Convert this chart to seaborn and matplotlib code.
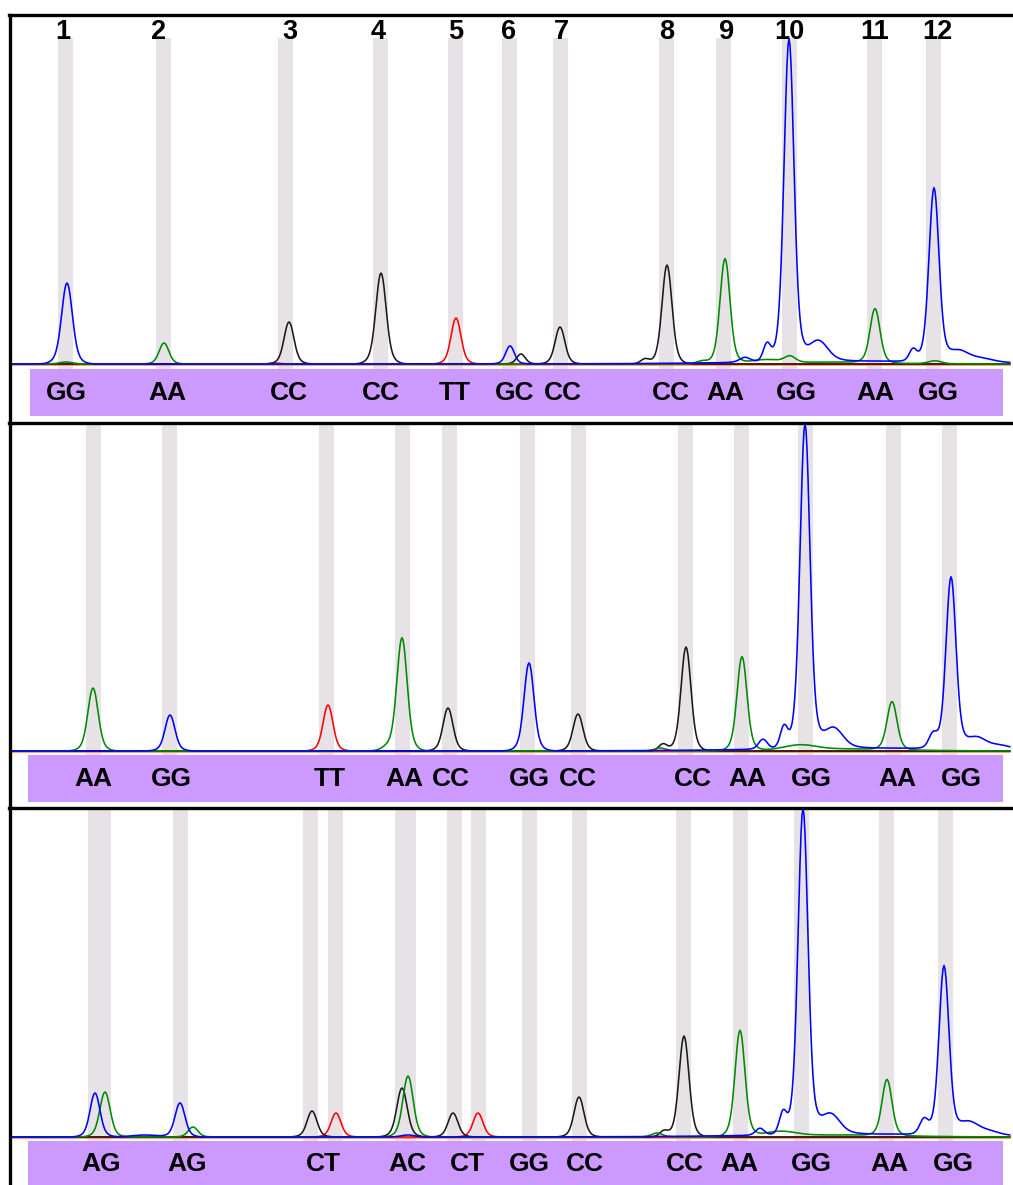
import numpy as np
import pandas as pd
import matplotlib.pyplot as plt
import matplotlib.patches as patches
import seaborn as sns

# peaks per panel / dye: (position, height, width)
P1_BLUE = [(67, 81, 5.0), (510, 18, 4.0), (745, 5, 5), (767, 18, 3.5), (789, 322, 4.6),
           (818, 21, 9), (913, 12, 3.5), (934, 173, 4.6), (958, 11, 9), (980, 4, 12),
           (860, 3, 100)]
P1_GREEN = [(66, 2, 6), (164, 21, 4.5), (702, 3, 5), (725, 105, 4.6), (765, 4, 15),
            (790, 6, 5), (875, 54, 4.6), (840, 2, 40), (935, 3, 6)]
P1_BLACK = [(289, 42, 4.6), (381, 91, 4.8), (521, 10, 4), (560, 37, 4.5), (645, 5, 4), (667, 99, 4.6)]
P1_RED = [(456, 46, 4.6), (275, 1, 4)]

P2_BLUE = [(170, 36, 4.6), (529, 88, 4.6), (763, 10, 4), (784, 22, 3.5), (805, 324, 4.6),
           (833, 21, 9), (933, 14, 4), (951, 171, 4.6), (976, 12, 9), (1000, 4, 10),
           (870, 3, 100)]
P2_GREEN = [(93, 63, 4.8), (387, 3, 6), (402, 113, 4.8), (660, 3, 5), (742, 94, 4.6),
            (800, 5, 15), (892, 48, 4.6), (850, 2, 50)]
P2_BLACK = [(448, 43, 4.6), (578, 37, 4.6), (663, 7, 4), (686, 104, 4.6)]
P2_RED = [(328, 46, 4.6)]

P3_BLUE = [(95, 44, 4.6), (180, 34, 4.6), (145, 2, 12), (408, 2, 6), (760, 7, 4), (783, 22, 3.5),
           (803, 325, 4.6), (830, 21, 9), (924, 15, 4), (944, 168, 4.6),
           (968, 13, 9), (988, 4, 10), (870, 3, 100)]
P3_GREEN = [(105, 45, 4.8), (193, 10, 4.5), (408, 61, 4.8), (657, 4, 5), (740, 106, 4.6),
            (780, 5, 15), (887, 56, 4.6), (850, 2, 50)]
P3_BLACK = [(312, 26, 4.6), (402, 49, 4.8), (453, 24, 4.6), (579, 40, 4.6), (664, 6, 4), (684, 101, 4.6)]
P3_RED = [(336, 24, 4.6), (478, 24, 4.6)]

# grey marker bands (centres)
P1_BANDS = [65.5, 163.5, 285.5, 380, 455.5, 509.5, 560, 666.5, 723.5, 789.5, 874.5, 933.5]
P2_BANDS = [93.5, 169.5, 326.5, 402.5, 449.5, 527.5, 578.5, 685.5, 741.5, 805.5, 893.5, 949.5]
P3_BANDS = [95.5, 103.5, 180, 310.5, 335.5, 402.5, 408.5, 454, 478, 529.5, 579.5, 683,
            740.5, 801.5, 886.5, 945]

SNP_NUMBERS = ['1', '2', '3', '4', '5', '6', '7', '8', '9', '10', '11', '12']
SNP_NUMBER_X = [63, 159, 290, 378, 456, 509, 561, 667, 727, 789, 875, 937]

P1_CALLS = ['GG', 'AA', 'CC', 'CC', 'TT', 'GC', 'CC', 'CC', 'AA', 'GG', 'AA', 'GG']
P1_CALL_X = [66, 167, 289, 381, 455, 515, 563, 671, 725, 796, 875, 938]
P2_CALLS = ['AA', 'GG', 'TT', 'AA', 'CC', 'GG', 'CC', 'CC', 'AA', 'GG', 'AA', 'GG']
P2_CALL_X = [93, 171, 330, 404, 451, 529, 578, 693, 747, 811, 897, 961]
P3_CALLS = ['AG', 'AG', 'CT', 'AC', 'CT', 'GG', 'CC', 'CC', 'AA', 'GG', 'AA', 'GG']
P3_CALL_X = [101, 187, 323, 407, 467, 529, 585, 685, 739, 811, 889, 953]

W, H = 1013, 1185
X0, X1 = 9.5, 1013
scan = np.arange(11, 1011, 1.0)


def trace(peaks):
    # each peak: narrow core plus a faint wider foot, like an electropherogram
    y = np.zeros_like(scan)
    for pos, h, w in peaks:
        core = np.exp(-0.5 * ((scan - pos) / w) ** 2)
        foot = np.exp(-0.5 * ((scan - pos) / (1.8 * w)) ** 2)
        y += h * (0.82 * core + 0.18 * foot)
    return y


panels = [
    dict(top=15, bottom=423, base=364, band_top=326, strip=(30, -5, -52), label_y=-29,
         peaks={'blue': P1_BLUE, 'green': P1_GREEN, 'black': P1_BLACK, 'red': P1_RED},
         bands=P1_BANDS, calls=P1_CALLS, call_x=P1_CALL_X),
    dict(top=423, bottom=808, base=751, band_top=330, strip=(28, -4, -51), label_y=-28,
         peaks={'blue': P2_BLUE, 'green': P2_GREEN, 'black': P2_BLACK, 'red': P2_RED},
         bands=P2_BANDS, calls=P2_CALLS, call_x=P2_CALL_X),
    dict(top=808, bottom=1185, base=1137, band_top=330, strip=(28, -4, -60), label_y=-27,
         peaks={'blue': P3_BLUE, 'green': P3_GREEN, 'black': P3_BLACK, 'red': P3_RED},
         bands=P3_BANDS, calls=P3_CALLS, call_x=P3_CALL_X),
]

sns.set_style('white')
plt.rcParams['font.family'] = ['Liberation Sans', 'DejaVu Sans']

palette = {'orange': '#FF8A3D', 'red': '#FF0000', 'black': '#1A1A1A',
           'green': '#008A00', 'blue': '#0000FF'}
order = ['orange', 'red', 'black', 'green', 'blue']

fig = plt.figure(figsize=(W / 100, H / 100), dpi=100)

for i, p in enumerate(panels):
    ax = fig.add_axes([X0 / W, 1 - p['bottom'] / H, (X1 - X0) / W, (p['bottom'] - p['top']) / H])

    frames = []
    for dye in order:
        sig = trace(p['peaks'].get(dye, []))
        if dye == 'orange':
            sig = sig - 1
        frames.append(pd.DataFrame({'scan': scan, 'rfu': sig, 'dye': dye}))
    df = pd.concat(frames, ignore_index=True)

    # grey allele bins
    ax.bar(p['bands'], p['band_top'] + 6, bottom=-6, width=15, color='#E6E2E6',
           edgecolor='none', zorder=0)

    sns.lineplot(data=df, x='scan', y='rfu', hue='dye', hue_order=order, palette=palette,
                 estimator=None, sort=False, linewidth=1.15, legend=False, ax=ax, zorder=2)

    x0, ytop, ybot = p['strip']
    ax.add_patch(patches.Rectangle((x0, ybot), 1003 - x0, ytop - ybot,
                                   facecolor='#CC99FF', edgecolor='none', zorder=3))
    for s, x in zip(p['calls'], p['call_x']):
        ax.text(x, p['label_y'], s, ha='center', va='center', fontsize=19,
                fontweight='bold', color='black', zorder=4)

    if i == 0:
        for s, x in zip(SNP_NUMBERS, SNP_NUMBER_X):
            ax.text(x, p['base'] - 32, s, ha='center', va='center', fontsize=19.5,
                    fontweight='bold', color='black', zorder=4)

    ax.set_xlim(X0, X1)
    ax.set_ylim(-(p['bottom'] - p['base']), p['base'] - p['top'])
    ax.set_xticks([])
    ax.set_yticks([])
    ax.set_xlabel('')
    ax.set_ylabel('')
    for side in ['right', 'bottom']:
        ax.spines[side].set_visible(False)
    for side in ['left', 'top']:
        ax.spines[side].set_visible(True)
        ax.spines[side].set_linewidth(2.4)
        ax.spines[side].set_color('black')
    ax.patch.set_alpha(0)

fig.savefig('out.png', dpi=100)
